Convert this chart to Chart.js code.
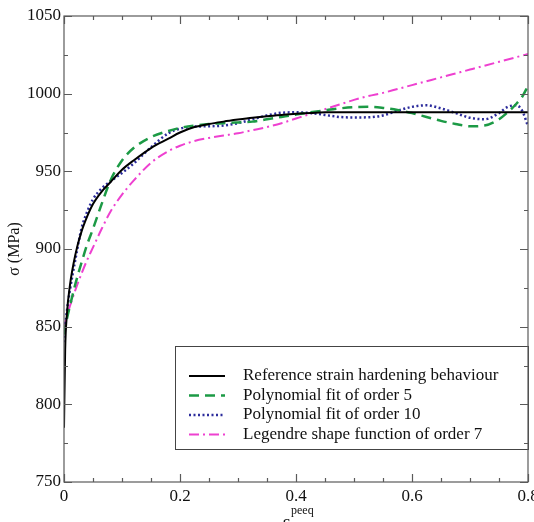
<!DOCTYPE html>
<html>
<head>
<meta charset="utf-8">
<script src="https://cdn.jsdelivr.net/npm/chart.js@4.4.1/dist/chart.umd.min.js"></script>
<style>
    html,body{margin:0;padding:0;background:#fff;}
    canvas{display:block;}
</style>
</head>
<body>
<canvas id="hardening" width="534" height="522"></canvas>
<script>
// strain values (x), shared by all curves
const strain = [0, 0.002, 0.005, 0.01, 0.02, 0.03, 0.04, 0.05, 0.065, 0.08, 0.1, 0.12, 0.15, 0.18, 0.2,
    0.225, 0.25, 0.275, 0.3, 0.325, 0.35, 0.375, 0.4, 0.425, 0.45, 0.475, 0.5, 0.525, 0.55, 0.575, 0.6,
    0.625, 0.65, 0.675, 0.7, 0.725, 0.75, 0.765, 0.78, 0.79, 0.8];

// stress values (MPa)
const reference = [785, 835, 858, 876, 897, 911, 921, 929, 937, 943, 951, 957, 965, 971, 975,
    978.5, 980.5, 982, 983.3, 984.5, 985.5, 986.3, 987, 987.5, 988, 988, 988, 988, 988, 988, 988,
    988, 988, 988, 988, 988, 988, 988, 988, 988, 988];
const poly5 = [845, 849, 855, 863, 878, 891, 903, 913, 929, 944, 957, 965, 972, 976, 978,
    979.5, 980.5, 981, 981.5, 982, 983.5, 985, 986.5, 988, 989.3, 990.5, 991.3, 991.5, 990.8, 989.5, 987.5,
    985, 982.5, 980.5, 979, 979.5, 983.5, 988, 993.5, 998, 1005];
const poly10 = [840, 850, 860, 873, 894, 913, 924, 932, 939, 943.5, 949, 955, 965.5, 974.5, 977.5,
    978.8, 979, 979.5, 981, 983.5, 986, 987.7, 988, 987.5, 986.3, 985, 984.7, 984.8, 986, 989, 991.5,
    992.5, 990.5, 987.5, 984.5, 983.5, 987.5, 991.5, 992.5, 989, 979];
const legendre7 = [848, 852, 857, 863, 874, 884, 893, 901, 913, 924, 935, 944, 955.5, 963, 966.5,
    969.5, 971.5, 973, 974.5, 976.5, 978.5, 981, 984, 987, 990, 993, 996, 998.5, 1000.5, 1003, 1005.5,
    1008, 1010.5, 1013, 1015.5, 1018, 1020.5, 1022, 1023.5, 1024.5, 1025.5];

const seriesLabels = [
    "Reference strain hardening behaviour",
    "Polynomial fit of order 5",
    "Polynomial fit of order 10",
    "Legendre shape function of order 7"
];

const xTicks = [0, 0.2, 0.4, 0.6, 0.8];
const yTicks = [750, 800, 850, 900, 950, 1000, 1050];

const serif = "'Liberation Serif', 'Times New Roman', serif";

function toPoints(values){
    return values.map((v,i) => ({x: strain[i], y: v}));
}

// inward ticks + frame + x title
const framePlugin = {
    id: "frame",
    afterDraw(chart){
        const {ctx, chartArea: a, scales: {x, y}} = chart;
        ctx.save();
        ctx.strokeStyle = "#5a5a5a";
        ctx.lineWidth = 1.2;
        ctx.strokeRect(a.left, a.top, a.right - a.left, a.bottom - a.top);

        ctx.beginPath();
        for(let v = 0; v <= 0.8001; v += 0.05){
            const px = Math.round(x.getPixelForValue(v)) + 0.5;
            const major = Math.abs(v/0.2 - Math.round(v/0.2)) < 1e-6;
            const len = major ? 8 : 4;
            ctx.moveTo(px, a.bottom); ctx.lineTo(px, a.bottom - len);
            ctx.moveTo(px, a.top); ctx.lineTo(px, a.top + len);
        }
        for(let v = 750; v <= 1050; v += 25){
            const py = Math.round(y.getPixelForValue(v)) + 0.5;
            const len = (v % 50 === 0) ? 8 : 4;
            ctx.moveTo(a.left, py); ctx.lineTo(a.left + len, py);
            ctx.moveTo(a.right, py); ctx.lineTo(a.right - len, py);
        }
        ctx.stroke();

        const cx = (a.left + a.right)/2;
        ctx.fillStyle = "#111";
        ctx.textBaseline = "alphabetic";
        ctx.font = "18px " + serif;
        ctx.textAlign = "right";
        ctx.fillText("ε", cx - 6, 528);
        ctx.font = "12px " + serif;
        ctx.textAlign = "left";
        ctx.fillText("peeq", cx - 5, 514);
        ctx.restore();
    }
};

// boxed legend inside the plot
const boxLegend = {
    id: "boxLegend",
    afterDatasetsDraw(chart){
        const {ctx, chartArea: a} = chart;
        const left = 175, top = 346, bottom = 449;
        ctx.save();
        ctx.fillStyle = "#fff";
        ctx.fillRect(left, top, a.right - left, bottom - top);
        ctx.strokeStyle = "#444";
        ctx.lineWidth = 1;
        ctx.strokeRect(left + 0.5, top + 0.5, a.right - left, bottom - top);

        chart.data.datasets.forEach((ds, i) => {
            const yy = 376 + i*19.5;
            ctx.beginPath();
            ctx.strokeStyle = ds.borderColor;
            ctx.lineWidth = ds.borderWidth;
            ctx.setLineDash(ds.borderDash || []);
            ctx.moveTo(189, yy); ctx.lineTo(225, yy);
            ctx.stroke();
            ctx.setLineDash([]);
            ctx.fillStyle = "#111";
            ctx.font = "17px " + serif;
            ctx.textBaseline = "middle";
            ctx.textAlign = "left";
            ctx.fillText(ds.label, 243, yy);
        });
        ctx.restore();
    }
};

const ctx = document.getElementById("hardening").getContext("2d");

new Chart(ctx, {
    type: "line",
    data: {
        datasets: [
            {label: seriesLabels[0], data: toPoints(reference), borderColor: "#000000", borderWidth: 2},
            {label: seriesLabels[1], data: toPoints(poly5), borderColor: "#1c9a45", borderWidth: 2.5, borderDash: [10, 6]},
            {label: seriesLabels[2], data: toPoints(poly10), borderColor: "#2c2c9c", borderWidth: 2.5, borderDash: [2, 2.5]},
            {label: seriesLabels[3], data: toPoints(legendre7), borderColor: "#ee40d0", borderWidth: 2, borderDash: [10, 4, 2, 4]}
        ]
    },
    options: {
        responsive: false,
        animation: false,
        devicePixelRatio: 1,
        layout: {padding: {top: 16, right: 6, left: 0, bottom: 0}},
        elements: {
            point: {radius: 0},
            line: {cubicInterpolationMode: "monotone", fill: false}
        },
        plugins: {
            legend: {display: false},
            tooltip: {enabled: false}
        },
        scales: {
            x: {
                type: "linear",
                min: 0,
                max: 0.8,
                afterFit(scale){
                    scale.height = 40;
                    scale.paddingLeft = 0;
                    scale.paddingRight = 0;
                },
                afterBuildTicks(scale){ scale.ticks = xTicks.map(v => ({value: v})); },
                grid: {display: false, drawTicks: false},
                border: {display: false},
                ticks: {
                    padding: 4,
                    color: "#111",
                    font: {family: serif, size: 17},
                    maxRotation: 0,
                    callback: v => String(v)
                }
            },
            y: {
                type: "linear",
                min: 750,
                max: 1050,
                afterFit(scale){
                    scale.width = 64;
                    scale.paddingTop = 0;
                    scale.paddingBottom = 0;
                },
                afterBuildTicks(scale){ scale.ticks = yTicks.map(v => ({value: v})); },
                grid: {display: false, drawTicks: false},
                border: {display: false},
                ticks: {
                    padding: 3,
                    color: "#111",
                    font: {family: serif, size: 17},
                    callback: v => String(v)
                },
                title: {
                    display: true,
                    text: "σ (MPa)",
                    color: "#111",
                    font: {family: serif, size: 16},
                    padding: {top: 5, bottom: 0}
                }
            }
        }
    },
    plugins: [framePlugin, boxLegend]
});
</script>
</body>
</html>
